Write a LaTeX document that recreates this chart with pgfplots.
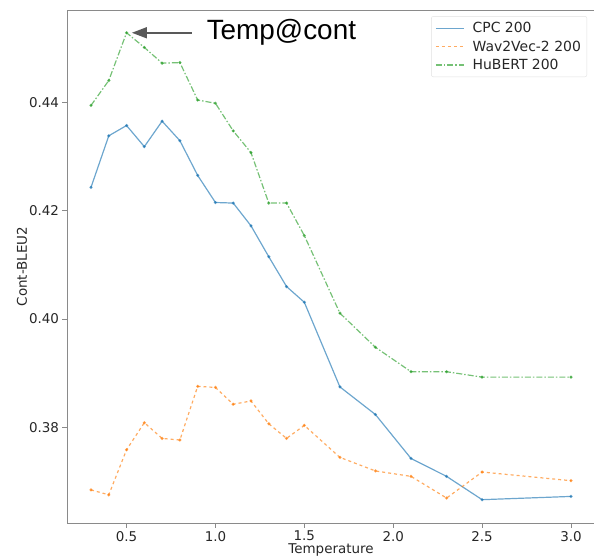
\documentclass[border=0pt]{standalone}
\usepackage{fontspec}
\setmainfont{DejaVu Sans}
\newfontfamily\arialfont{Liberation Sans}
\usepackage{pgfplots}
\pgfplotsset{compat=1.18}
\usetikzlibrary{arrows.meta}

\definecolor{tabblue}{HTML}{1F77B4}
\definecolor{taborange}{HTML}{FF7F0E}
\definecolor{tabgreen}{HTML}{2CA02C}
\definecolor{spine}{HTML}{8A8A8A}

\begin{document}
\begin{tikzpicture}
\begin{axis}[
    name=ax,
    scale only axis,
    width=528bp, height=513bp,
    xmin=0.165, xmax=3.135,
    ymin=0.3624, ymax=0.4570,
    xtick={0.5,1.0,...,3.0},
    ytick={0.38,0.40,0.42,0.44},
    xticklabel style={/pgf/number format/fixed,/pgf/number format/fixed zerofill,/pgf/number format/precision=1},
    yticklabel style={/pgf/number format/fixed,/pgf/number format/fixed zerofill,/pgf/number format/precision=2},
    /pgf/number format/assume math mode=true,
    tick label style={font=\fontsize{13.5}{15}\selectfont, text=black!85},
    axis line style={spine, line width=0.9bp},
    tick style={spine, line width=0.8bp},
    tick align=outside,
    major tick length=4.5bp,
    xtick pos=bottom, ytick pos=left,
    xlabel={Temperature},
    ylabel={Cont-BLEU2},
    every axis x label/.style={at={(axis description cs:0.5,-0.0535)}, anchor=center,
        font=\fontsize{13.5}{15}\selectfont, text=black!85},
    every axis y label/.style={at={(axis description cs:-0.0852,0.5)}, anchor=center, rotate=90,
        font=\fontsize{13.5}{15}\selectfont, text=black!85},
    legend style={at={(0.985,0.988)}, anchor=north east, draw=black!12, rounded corners=2bp,
        font=\fontsize{14}{16}\selectfont, text=black!85, row sep=2.5bp, inner sep=4bp},
    legend cell align=left,
    legend image post style={xscale=1.65, mark=none},
    every axis plot/.append style={line width=1.2bp, opacity=0.65, mark=*, mark size=0.9bp},
]
\addplot[tabblue, solid, mark options={solid}] coordinates {
(0.3,0.4243) (0.4,0.4338) (0.5,0.4357) (0.6,0.4318) (0.7,0.4365) (0.8,0.4329)
(0.9,0.4265) (1.0,0.4215) (1.1,0.4214) (1.2,0.4172) (1.3,0.4115) (1.4,0.4060)
(1.5,0.4031) (1.7,0.3875) (1.9,0.3824) (2.1,0.3743) (2.3,0.3710) (2.5,0.3667)
(3.0,0.3673)
};
\addlegendentry{\hspace{6bp}CPC 200}
\addplot[taborange, dashed, mark options={solid}] coordinates {
(0.3,0.3685) (0.4,0.3676) (0.5,0.3759) (0.6,0.3809) (0.7,0.3780) (0.8,0.3777)
(0.9,0.3876) (1.0,0.3874) (1.1,0.3843) (1.2,0.3849) (1.3,0.3807) (1.4,0.3780)
(1.5,0.3804) (1.7,0.3745) (1.9,0.3720) (2.1,0.3710) (2.3,0.3670) (2.5,0.3718)
(3.0,0.3702)
};
\addlegendentry{\hspace{6bp}Wav2Vec-2 200}
\addplot[tabgreen, dash pattern=on 6bp off 2bp on 1.5bp off 2bp, mark options={solid}] coordinates {
(0.3,0.4394) (0.4,0.4440) (0.5,0.4528) (0.6,0.4501) (0.7,0.4472) (0.8,0.4473)
(0.9,0.4404) (1.0,0.4398) (1.1,0.4347) (1.2,0.4307) (1.3,0.4214) (1.4,0.4214)
(1.5,0.4154) (1.7,0.4011) (1.9,0.3948) (2.1,0.3903) (2.3,0.3903) (2.5,0.3893)
(3.0,0.3893)
};
\addlegendentry{\hspace{6bp}HuBERT 200}
\draw[black!65, line width=1.6bp, -{Triangle[length=15bp,width=11bp]}]
    (axis cs:0.867,0.4528) -- (axis cs:0.53,0.4528);
\node[anchor=west, inner sep=0pt, font=\arialfont\fontsize{28}{30}\selectfont]
    at (axis cs:0.95,0.4528) {Temp@cont};
\end{axis}
\pgfresetboundingbox
\path[use as bounding box] (ax.south west) ++(-67bp,-37bp) rectangle ++(594bp,560bp);
\end{tikzpicture}
\end{document}
